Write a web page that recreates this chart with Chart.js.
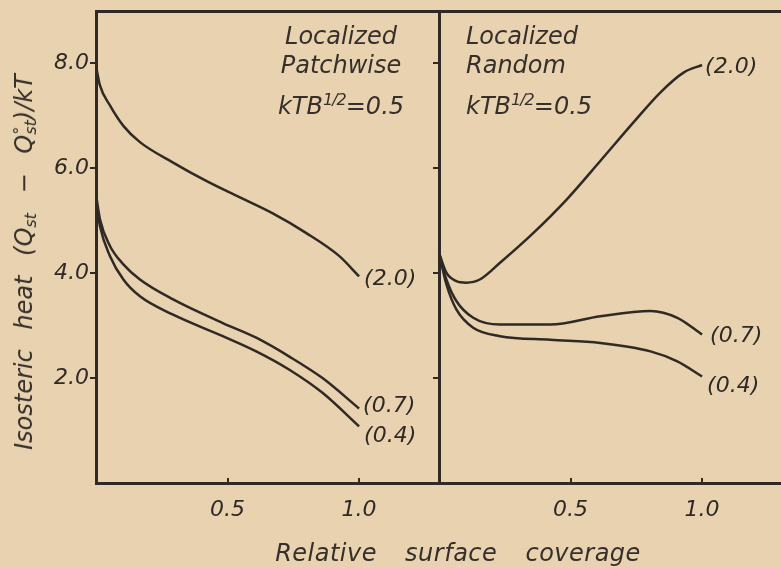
<!DOCTYPE html>
<html>
<head>
<meta charset="utf-8">
<script src="https://cdn.jsdelivr.net/npm/chart.js@4.4.1/dist/chart.umd.min.js"></script>
<style>
  body { margin: 0; background: #e8d2af; }
  #wrap { position: relative; width: 781px; height: 568px; overflow: hidden; font-family: 'DejaVu Sans', sans-serif; font-style: italic; color: #35302b; }
  canvas { position: absolute; top: 0; }
  .note { position: absolute; font-size: 24px; line-height: 29px; white-space: nowrap; }
  .note .k { margin-top: 5px; }
  .note sup { font-size: 16px; letter-spacing: -1px; vertical-align: 9px; }
  #ytitle { position: absolute; left: 24px; top: 262px; transform: translate(-50%, -50%) rotate(-90deg); font-size: 24px; white-space: nowrap; word-spacing: 12px; }
  #ytitle .ss { display: inline-block; vertical-align: -4px; line-height: 11px; font-size: 16px; text-align: left; word-spacing: 0; }
  #xtitle { position: absolute; left: 458px; top: 553px; transform: translate(-50%, -50%); font-size: 24px; letter-spacing: 0.5px; white-space: nowrap; word-spacing: 20px; }
</style>
</head>
<body>
<div id="wrap">
  <canvas id="leftChart" width="440" height="568" style="left:0"></canvas>
  <canvas id="rightChart" width="361" height="568" style="left:420px"></canvas>

  <div class="note" style="left:341px; top:22px; transform:translateX(-50%); text-align:center">
    <div>Localized</div>
    <div>Patchwise</div>
    <div class="k">kTB<sup>1/2</sup>=0.5</div>
  </div>
  <div class="note" style="left:466px; top:22px">
    <div>Localized</div>
    <div>Random</div>
    <div class="k">kTB<sup>1/2</sup>=0.5</div>
  </div>

  <div id="ytitle">Isosteric heat (Q<span class="ss">&nbsp;<br>st</span> − Q<span class="ss">°<br>st</span>)/kT</div>
  <div id="xtitle">Relative surface coverage</div>
</div>

<script>
// relative surface coverage ticks and heat ticks
const xTicks = [0.5, 1.0];
const yTicks = [2, 4, 6, 8];

// Localized patchwise, kTB^1/2 = 0.5
const patchX20 = [0, 0.015, 0.053, 0.104, 0.167, 0.293, 0.419, 0.545, 0.672, 0.798, 0.924, 1.0];
const patchY20 = [7.95, 7.58, 7.2, 6.81, 6.5, 6.11, 5.76, 5.45, 5.14, 4.77, 4.33, 3.94];
const patchX07 = [0, 0.015, 0.053, 0.104, 0.167, 0.293, 0.482, 0.609, 0.735, 0.861, 1.0];
const patchY07 = [5.5, 5.03, 4.52, 4.17, 3.88, 3.5, 3.05, 2.77, 2.41, 2.0, 1.42];
const patchX04 = [0, 0.015, 0.053, 0.104, 0.167, 0.293, 0.482, 0.609, 0.735, 0.861, 1.0];
const patchY04 = [5.4, 4.9, 4.33, 3.88, 3.56, 3.21, 2.8, 2.51, 2.16, 1.72, 1.08];

// Localized random, kTB^1/2 = 0.5
const randX20 = [0, 0.028, 0.066, 0.104, 0.155, 0.232, 0.359, 0.486, 0.613, 0.74, 0.842, 0.931, 1.0];
const randY20 = [4.39, 4.01, 3.85, 3.82, 3.88, 4.2, 4.77, 5.41, 6.14, 6.88, 7.45, 7.83, 7.97];
const randX07 = [0, 0.028, 0.066, 0.13, 0.232, 0.423, 0.613, 0.804, 0.906, 1.0];
const randY07 = [4.39, 3.88, 3.47, 3.15, 3.02, 3.02, 3.18, 3.28, 3.15, 2.83];
const randX04 = [0, 0.028, 0.066, 0.13, 0.232, 0.423, 0.613, 0.804, 0.906, 1.0];
const randY04 = [4.39, 3.79, 3.31, 2.96, 2.8, 2.73, 2.67, 2.51, 2.32, 2.03];

const ink = '#2f2a26';
const labelFont = 'italic 22px "DejaVu Sans"';

function pts(xs, ys) {
    return xs.map((x, i) => ({ x: x, y: ys[i] }));
}

function curve(label, xs, ys, dx, dy) {
    return {
        label: label,
        data: pts(xs, ys),
        borderColor: ink,
        borderWidth: 2.5,
        pointRadius: 0,
        fill: false,
        cubicInterpolationMode: 'monotone',
        labelDx: dx,
        labelDy: dy
    };
}

// writes "(2.0)" etc. next to the end of each curve
const endLabels = {
    id: 'endLabels',
    afterDatasetsDraw(chart) {
        const ctx = chart.ctx;
        ctx.save();
        ctx.font = labelFont;
        ctx.fillStyle = ink;
        ctx.textBaseline = 'middle';
        chart.data.datasets.forEach((ds, i) => {
            const els = chart.getDatasetMeta(i).data;
            const last = els[els.length - 1];
            ctx.fillText(ds.label, last.x + ds.labelDx, last.y + ds.labelDy);
        });
        ctx.restore();
    }
};

function makeOptions(showYLabels, yWidth, padRight) {
    return {
        responsive: false,
        animation: false,
        layout: { padding: { top: 11, right: padRight, left: 0, bottom: 0 } },
        plugins: { legend: { display: false }, tooltip: { enabled: false } },
        scales: {
            x: {
                type: 'linear',
                min: 0,
                max: 1.3,
                afterBuildTicks: s => { s.ticks = xTicks.map(v => ({ value: v })); },
                afterFit: s => { s.height = 85; s.paddingLeft = 0; s.paddingRight = 0; },
                border: { color: ink, width: 3 },
                grid: { drawOnChartArea: false, color: ink, lineWidth: 2, tickLength: -5 },
                ticks: {
                    color: ink,
                    padding: 19,
                    maxRotation: 0,
                    font: { family: 'DejaVu Sans', style: 'italic', size: 22 },
                    callback: v => v.toFixed(1)
                }
            },
            top: {
                type: 'linear',
                position: 'top',
                display: true,
                min: 0,
                max: 1.3,
                afterFit: s => { s.height = 0; s.paddingLeft = 0; s.paddingRight = 0; },
                border: { color: ink, width: 3 },
                grid: { drawOnChartArea: false, drawTicks: false },
                ticks: { display: false }
            },
            y: {
                min: 0,
                max: 9,
                afterBuildTicks: s => { s.ticks = yTicks.map(v => ({ value: v })); },
                afterFit: s => { s.width = yWidth; s.paddingTop = 0; s.paddingBottom = 0; },
                border: { color: ink, width: 3 },
                grid: { drawOnChartArea: false, color: ink, lineWidth: 2, tickLength: 6 },
                ticks: {
                    display: showYLabels,
                    color: ink,
                    padding: 1,
                    font: { family: 'DejaVu Sans', style: 'italic', size: 22 },
                    callback: v => v.toFixed(1)
                }
            }
        }
    };
}

new Chart(document.getElementById('leftChart').getContext('2d'), {
    type: 'line',
    data: {
        datasets: [
            curve('(2.0)', patchX20, patchY20, 5, 3),
            curve('(0.7)', patchX07, patchY07, 4, -2),
            curve('(0.4)', patchX04, patchY04, 5, 10)
        ]
    },
    options: makeOptions(true, 96, 2),
    plugins: [endLabels]
});

new Chart(document.getElementById('rightChart').getContext('2d'), {
    type: 'line',
    data: {
        datasets: [
            curve('(2.0)', randX20, randY20, 3, 2),
            curve('(0.7)', randX07, randY07, 8, 2),
            curve('(0.4)', randX04, randY04, 5, 10)
        ]
    },
    options: makeOptions(false, 19, 0),
    plugins: [endLabels]
});
</script>
</body>
</html>
